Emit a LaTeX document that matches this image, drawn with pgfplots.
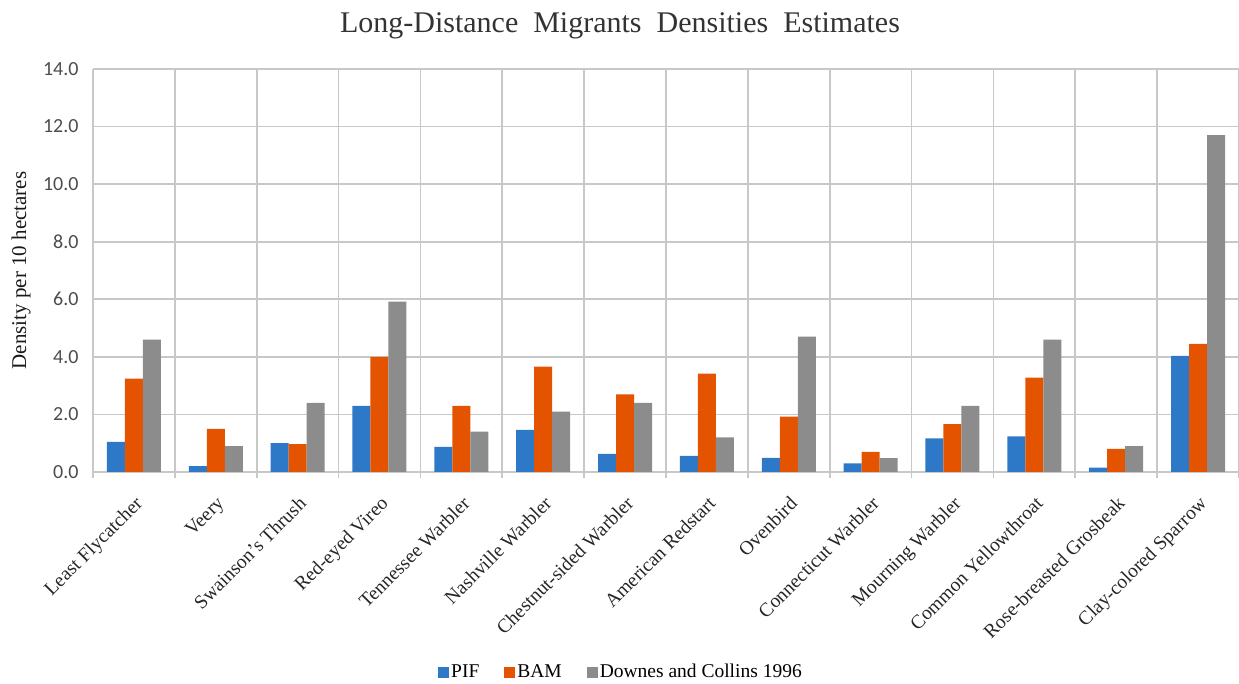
\documentclass[border=0pt]{standalone}
\usepackage{fontspec}
\setmainfont{Liberation Serif}
\newfontfamily\carlito{Carlito}
\usepackage{pgfplots}
\pgfplotsset{compat=1.18}

\definecolor{pifblue}{RGB}{46,120,200}
\definecolor{bamorange}{RGB}{228,84,0}
\definecolor{dcgrey}{RGB}{140,140,140}
\definecolor{gridgrey}{RGB}{200,200,200}

% columns: x = category index
\pgfplotstableread{
x pif bam dc
0  1.05 3.24 4.60
1  0.20 1.50 0.90
2  1.00 0.97 2.40
3  2.30 4.00 5.92
4  0.87 2.30 1.40
5  1.46 3.66 2.10
6  0.63 2.70 2.40
7  0.56 3.42 1.20
8  0.49 1.92 4.70
9  0.30 0.70 0.48
10 1.17 1.66 2.30
11 1.24 3.28 4.60
12 0.15 0.80 0.90
13 4.03 4.45 11.70
}\birds

\begin{document}
\begin{tikzpicture}
\begin{axis}[
    name=ax,
    scale only axis,
    width=1146pt, height=403pt,
    ybar=0pt, bar width=18pt,
    xmin=-0.5, xmax=13.5,
    ymin=0, ymax=14, ytick distance=2,
    axis x line*=bottom, axis y line*=left,
    axis line style={gridgrey, line width=1.6pt},
    xtick={0,...,13},
    xticklabels={Least Flycatcher, Veery, Swainson's Thrush, Red-eyed Vireo,
      Tennessee Warbler, Nashville Warbler, Chestnut-sided Warbler,
      American Redstart, Ovenbird, Connecticut Warbler, Mourning Warbler,
      Common Yellowthroat, Rose-breasted Grosbeak, Clay-colored Sparrow},
    x tick label style={rotate=45, anchor=north east, font=\fontsize{19.5}{22}\selectfont,
      text=black!85, xshift=-10pt, yshift=-10pt},
    major x tick style={draw=none},
    minor xtick={-0.5,0.5,...,13.5},
    minor x tick style={gridgrey, line width=1.6pt},
    minor tick length=6pt,
    xminorgrids=true, ymajorgrids=true,
    grid style={gridgrey, line width=1.6pt},
    minor grid style={gridgrey, line width=1.6pt},
    major y tick style={draw=none},
    /pgf/number format/assume math mode=true,
    /pgf/number format/.cd, fixed, fixed zerofill, precision=1, /pgfplots/.cd,
    y tick label style={font=\carlito\fontsize{20}{22}\selectfont, text=black!70, xshift=-11pt},
    ylabel={Density per 10 hectares},
    ylabel style={at={(axis description cs:0,0.5)}, anchor=center,
      yshift=72pt, font=\fontsize{21}{23}\selectfont, text=black!90},
    title={Long-Distance\ \ Migrants\ \ Densities\ \ Estimates},
    title style={at={(0.5,1)}, anchor=center, yshift=37pt, xshift=-46pt,
      font=\fontsize{30}{33}\selectfont, text=black!80},
    legend columns=3,
    legend style={at={(0.5,-0.496)}, anchor=center, draw=none, xshift=-45pt,
      font=\fontsize{19.5}{21}\selectfont,
      /tikz/every even column/.append style={column sep=23pt}},
    legend image code/.code={\fill[#1] (0pt,-6pt) rectangle (11pt,5pt);},
]
\addplot[fill=pifblue, draw=none] table[x=x, y=pif] {\birds};
\addplot[fill=bamorange, draw=none] table[x=x, y=bam] {\birds};
\addplot[fill=dcgrey, draw=none] table[x=x, y=dc] {\birds};
\legend{PIF, BAM, Downes and Collins 1996}
\end{axis}
\pgfresetboundingbox
\useasboundingbox (ax.south west) ++(-93pt,-212pt) rectangle ++(1239pt,684pt);
\end{tikzpicture}
\end{document}
